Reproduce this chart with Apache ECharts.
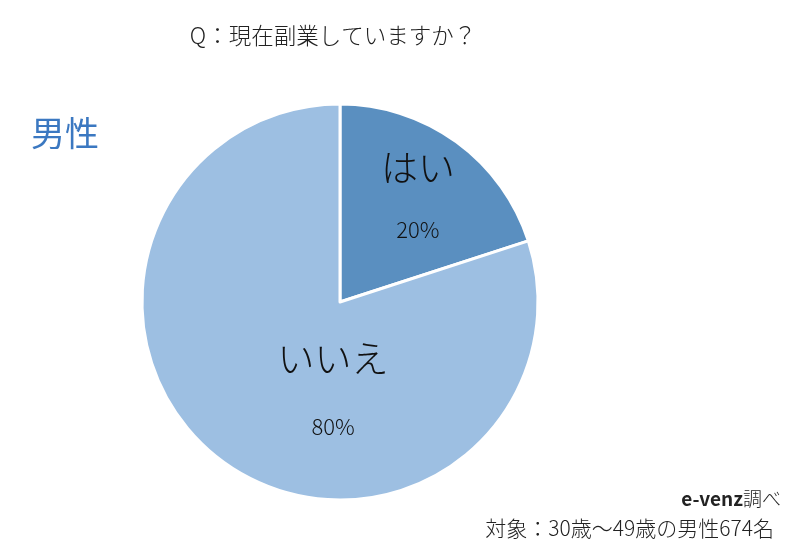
<!DOCTYPE html>
<html>
<head>
<meta charset="utf-8">
<script src="https://cdn.jsdelivr.net/npm/echarts@6/dist/echarts.min.js"></script>
<style>
  html, body { margin: 0; padding: 0; background: #fff; }
  #chart { width: 799px; height: 554px; }
</style>
</head>
<body>
<div id="chart"></div>
<script>
// 回答カテゴリと割合
var categories = ['はい', 'いいえ'];
var values = [20, 80];
var colors = ['#5a8fc0', '#9dbfe2'];
// ラベル位置の微調整 (dx, dy) と行間
var labelShift = [[18, -21], [53, 8]];
var labelGap = [62, 68];

var chart = echarts.init(document.getElementById('chart'));
var font = '"Noto Sans CJK JP", "Noto Sans", sans-serif';

function richFor(i) {
  return {
    n: { fontFamily: font, fontSize: 37, fontWeight: 300, color: '#111', lineHeight: labelGap[i] },
    p: { fontFamily: font, fontSize: 22, fontWeight: 300, color: '#111', lineHeight: labelGap[i] }
  };
}

var option = {
  backgroundColor: '#fff',
  title: [{
    text: 'Q：現在副業していますか？',
    left: 328, top: 19, textAlign: 'center',
    textStyle: { fontFamily: font, fontSize: 22.5, fontWeight: 300, color: '#222' }
  }, {
    text: '男性',
    left: 26, top: 111,
    textStyle: { fontFamily: font, fontSize: 34, fontWeight: 'normal', color: '#3b78c1' }
  }],
  graphic: [{
    type: 'text', right: 18, top: 489,
    style: {
      text: '{b|e-venz}調べ', fill: '#222', font: '300 19px ' + font,
      rich: { b: { fontWeight: 'bold', fontSize: 19, fontFamily: font, fill: '#222' } }
    }
  }, {
    type: 'text', right: 25, top: 518,
    style: { text: '対象：30歳〜49歳の男性674名', fill: '#222', font: '300 21px ' + font }
  }],
  series: [{
    type: 'pie',
    center: [340, 302],
    radius: 198,
    startAngle: 90,
    clockwise: true,
    animation: false,
    silent: true,
    itemStyle: { borderColor: '#fff', borderWidth: 3 },
    label: {
      position: 'inside',
      formatter: function (p) { return '{n|' + p.name + '}\n{p|' + p.value + '%}'; }
    },
    labelLayout: function (params) {
      var s = labelShift[params.dataIndex];
      return { dx: s[0], dy: s[1] };
    },
    data: categories.map(function (c, i) {
      return {
        name: c, value: values[i],
        itemStyle: { color: colors[i] },
        label: { rich: richFor(i) }
      };
    })
  }]
};

chart.setOption(option);
</script>
</body>
</html>
